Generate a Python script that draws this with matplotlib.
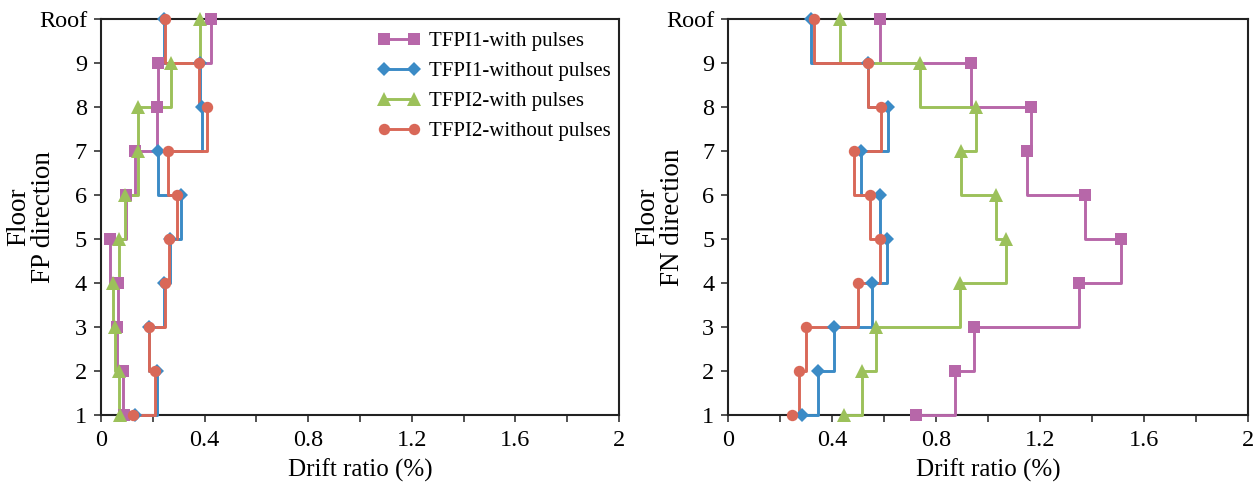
import matplotlib
matplotlib.use("Agg")
import matplotlib.pyplot as plt
from matplotlib.ticker import MultipleLocator

plt.rcParams['font.family'] = ['Liberation Serif', 'DejaVu Serif']

floors = [1, 2, 3, 4, 5, 6, 7, 8, 9, 10]
floor_labels = ["1", "2", "3", "4", "5", "6", "7", "8", "9", "Roof"]
series_names = ["TFPI1-with pulses", "TFPI1-without pulses",
                "TFPI2-with pulses", "TFPI2-without pulses"]

# FP direction (left panel)
fp_tfpi1_with = [0.09, 0.086, 0.06, 0.067, 0.035, 0.097, 0.13, 0.215, 0.222, 0.425]
fp_tfpi1_without = [0.13, 0.215, 0.187, 0.242, 0.267, 0.308, 0.222, 0.39, 0.383, 0.244]
fp_tfpi2_with = [0.073, 0.071, 0.054, 0.045, 0.071, 0.093, 0.144, 0.144, 0.271, 0.383]
fp_tfpi2_without = [0.125, 0.21, 0.187, 0.248, 0.263, 0.295, 0.257, 0.411, 0.377, 0.248]

# FN direction (right panel)
fn_tfpi1_with = [0.72, 0.87, 0.945, 1.35, 1.51, 1.37, 1.15, 1.164, 0.932, 0.583]
fn_tfpi1_without = [0.285, 0.346, 0.408, 0.554, 0.61, 0.583, 0.51, 0.613, 0.539, 0.318]
fn_tfpi2_with = [0.446, 0.514, 0.569, 0.89, 1.067, 1.028, 0.895, 0.951, 0.737, 0.429]
fn_tfpi2_without = [0.244, 0.272, 0.299, 0.499, 0.585, 0.545, 0.483, 0.587, 0.539, 0.331]

colors = ['#B767A9', '#3B8BC6', '#9CC15A', '#D96858']
markers = ['s', 'D', '^', 'o']
msizes = [9.3, 6.8, 9.5, 8.2]

fig = plt.figure(figsize=(12.6, 4.9), dpi=100)
ax1 = fig.add_axes([101/1260, 75/490, 518/1260, 395.5/490])
ax2 = fig.add_axes([728.3/1260, 75/490, 520/1260, 395.5/490])

panels = [
    (ax1, [fp_tfpi1_with, fp_tfpi1_without, fp_tfpi2_with, fp_tfpi2_without],
     "Floor\nFP direction", -0.087),
    (ax2, [fn_tfpi1_with, fn_tfpi1_without, fn_tfpi2_with, fn_tfpi2_without],
     "Floor\nFN direction", -0.083),
]

FS = 17.5
for ax, data, ylab, lx in panels:
    for vals, name, c, m, ms in zip(data, series_names, colors, markers, msizes):
        ax.plot(vals, floors, drawstyle='steps-post', color=c, lw=2.1,
                clip_on=False, zorder=3)
        ax.plot(vals, floors, linestyle='none', marker=m, markersize=ms,
                color=c, markeredgewidth=0, clip_on=False, zorder=4)
    ax.set_xlim(0, 2)
    ax.set_ylim(1, 10)
    ax.xaxis.set_minor_locator(MultipleLocator(0.2))
    ax.set_xticks([0, 0.4, 0.8, 1.2, 1.6, 2.0])
    ax.set_xticklabels(["0", "0.4", "0.8", "1.2", "1.6", "2"])
    ax.set_yticks(floors)
    ax.set_yticklabels(floor_labels)
    ax.tick_params(axis='both', which='both', direction='out', length=5,
                   width=1.2, labelsize=FS, color='#333333', pad=5)
    ax.tick_params(axis='x', which='both', pad=6)
    for sp in ax.spines.values():
        sp.set_linewidth(1.5)
        sp.set_color('#222222')
    ax.set_xlabel("Drift ratio (%)", fontsize=18, labelpad=5)
    ax.set_ylabel(ylab, fontsize=19.5, linespacing=1.0)
    ax.yaxis.set_label_coords(lx, 0.5)

# legend proxies
handles = []
for name, c, m, ms in zip(series_names, colors, markers, msizes):
    h, = ax1.plot([], [], color=c, lw=2.1, marker=m, markersize=ms,
                  markeredgewidth=0, label=name)
    handles.append(h)
ax1.legend(handles=handles, loc='upper left', bbox_to_anchor=(0.535, 0.97),
           frameon=False, fontsize=15, numpoints=2, handlelength=2.0,
           handletextpad=0.45, labelspacing=0.5, borderpad=0, borderaxespad=0)

fig.savefig("out.png", dpi=100)
